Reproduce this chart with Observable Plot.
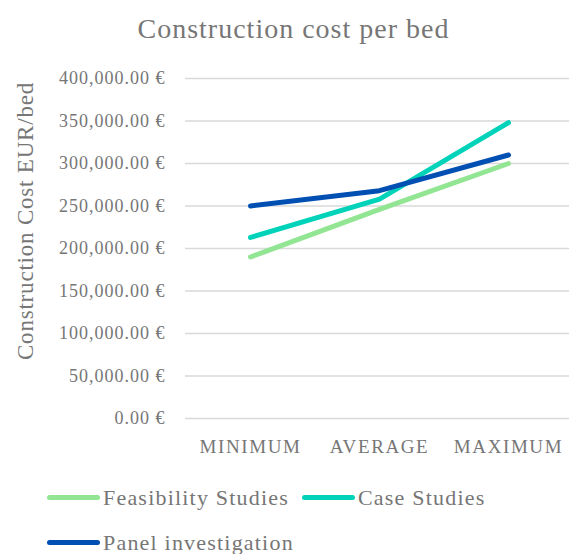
<!DOCTYPE html>
<html>
<head>
<meta charset="utf-8">
<script src="https://cdn.jsdelivr.net/npm/d3@7"></script>
<script src="https://cdn.jsdelivr.net/npm/@observablehq/plot@0.6"></script>
<style>
  html, body { margin: 0; padding: 0; background: #fff; }
  body { width: 569px; font-family: "Liberation Serif", serif; color: #767676; position: relative; }
  #title { height: 60px; box-sizing: border-box; padding-top: 15px; padding-left: 18px; text-align: center; font-size: 28px; line-height: 1; letter-spacing: 1px; }
  #chart svg { display: block; }
  #chart g[aria-label="y-axis tick label"] text { letter-spacing: 1px; }
  #chart g[aria-label="x-axis tick label"] text { letter-spacing: 1.6px; }
  #ylabel { position: absolute; left: 25px; top: 221px; transform: translate(-50%, -50%) rotate(-90deg); white-space: nowrap; font-size: 23px; letter-spacing: 0.8px; line-height: 1; }
  #legend { margin-left: 47px; margin-top: 15px; width: 515px; display: flex; flex-wrap: wrap; }
  .item { width: 255px; height: 45px; display: flex; align-items: center; font-size: 22px; letter-spacing: 1.2px; }
  .sw { width: 53px; height: 5px; border-radius: 3px; margin-right: 3px; flex: none; }
</style>
</head>
<body>
<div id="title">Construction cost per bed</div>
<div id="chart"></div>
<div id="ylabel"></div>
<div id="legend"></div>
<script>
const categories = ["MINIMUM", "AVERAGE", "MAXIMUM"];
const seriesNames = ["Feasibility Studies", "Case Studies", "Panel investigation"];
const feasibility = [190000, 246000, 300000];
const caseStudies = [213000, 258000, 348000];
const panel = [250000, 268000, 310000];
const seriesColors = ["#92e592", "#00d3b9", "#004fb2"];
const yTicks = [0, 50000, 100000, 150000, 200000, 250000, 300000, 350000, 400000];
const yLabel = "Construction Cost EUR/bed";

const values = [feasibility, caseStudies, panel];
const data = [];
seriesNames.forEach((s, si) => categories.forEach((c, ci) => data.push({series: s, cat: c, value: values[si][ci]})));

const textColor = "#767676";
const fmt = d => d3.format(",.2f")(d) + " €";

const chart = Plot.plot({
  width: 569,
  height: 400,
  marginTop: 18,
  marginBottom: 42,
  marginLeft: 185,
  marginRight: 0,
  style: {fontFamily: "Liberation Serif, serif", color: textColor, background: "#fff", overflow: "visible"},
  x: {type: "point", domain: categories, range: [250, 508], padding: 0},
  y: {domain: [0, 400000]},
  color: {domain: seriesNames, range: seriesColors},
  marks: [
    Plot.gridY(yTicks, {stroke: "#d9d9d9", strokeOpacity: 1, strokeWidth: 1.3}),
    Plot.axisY(yTicks, {tickSize: 0, tickPadding: 20, tickFormat: fmt, fontSize: 18, fill: textColor, label: null}),
    Plot.axisX({tickSize: 0, tickPadding: 21, fontSize: 19, fill: textColor, label: null}),
    Plot.line(data, {x: "cat", y: "value", z: "series", stroke: "series", strokeWidth: 5, strokeLinecap: "round", strokeLinejoin: "round"})
  ]
});
document.getElementById("chart").appendChild(chart);
document.getElementById("ylabel").textContent = yLabel;

const legend = document.getElementById("legend");
seriesNames.forEach((s, i) => {
  const item = document.createElement("div");
  item.className = "item";
  const sw = document.createElement("span");
  sw.className = "sw";
  sw.style.background = seriesColors[i];
  const t = document.createElement("span");
  t.textContent = s;
  item.appendChild(sw);
  item.appendChild(t);
  legend.appendChild(item);
});
</script>
</body>
</html>
